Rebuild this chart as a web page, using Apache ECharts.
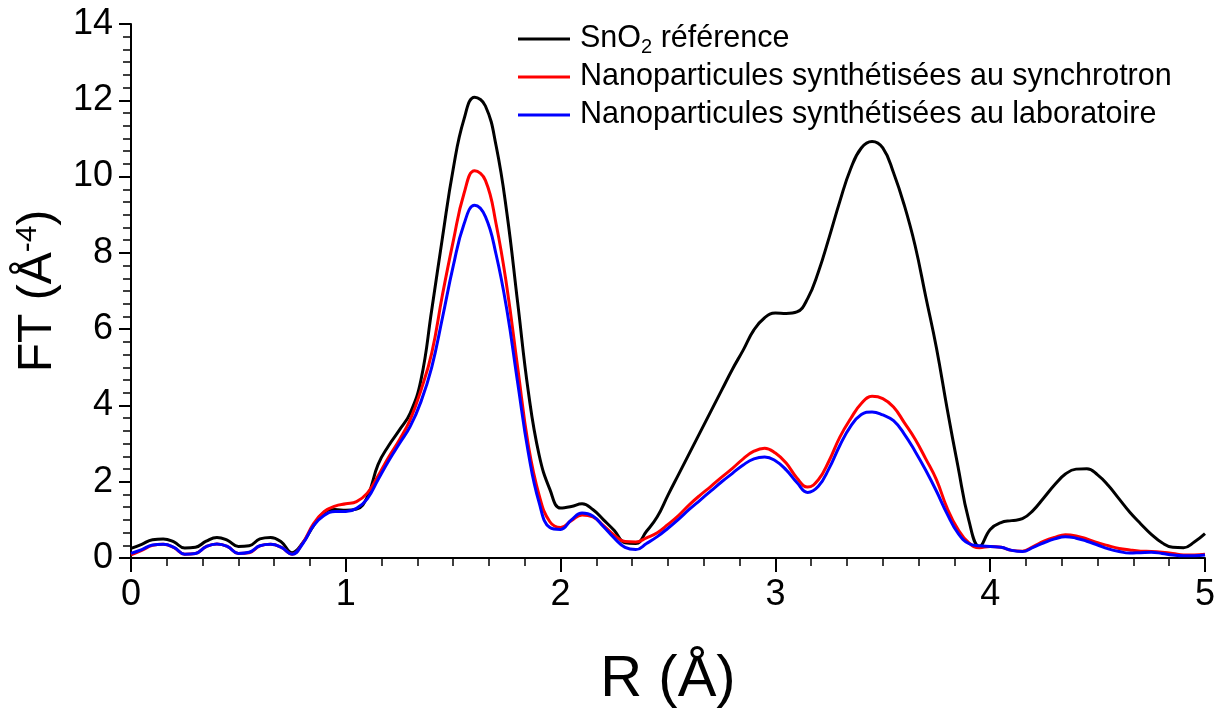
<!DOCTYPE html>
<html>
<head>
<meta charset="utf-8">
<script src="https://cdn.jsdelivr.net/npm/echarts@6/dist/echarts.min.js"></script>
<style>
  html, body { margin: 0; padding: 0; background: #fff; }
  #chart { width: 1222px; height: 709px; }
</style>
</head>
<body>
<div id="chart"></div>
<script>
// R grid (Å), step 0.05 from 0 to 5
const rValues = [];
for (let i = 0; i <= 100; i++) rValues.push(+(i * 0.05).toFixed(2));

const xTicks = [0, 1, 2, 3, 4, 5];
const yTicks = [0, 2, 4, 6, 8, 10, 12, 14];

const seriesNames = [
  'SnO2 référence',
  'Nanoparticules synthétisées au synchrotron',
  'Nanoparticules synthétisées au laboratoire'
];

const ftReference = [
  0.25, 0.36, 0.48, 0.50, 0.42, 0.26, 0.28, 0.44, 0.54, 0.46,
  0.30, 0.32, 0.50, 0.54, 0.42, 0.14, 0.40, 0.85, 1.20, 1.27,
  1.25, 1.28, 1.60, 2.45, 2.95, 3.36, 3.80, 4.67, 6.50, 8.40,
  10.2, 11.5, 12.08, 11.85, 10.8, 9.04, 6.70, 4.35, 2.70, 1.80,
  1.31, 1.35, 1.42, 1.27, 1.00, 0.72, 0.40, 0.38, 0.70, 1.08,
  1.65, 2.20, 2.75, 3.30, 3.85, 4.40, 4.95, 5.45, 5.98, 6.30,
  6.42, 6.41, 6.45, 6.80, 7.50, 8.40, 9.35, 10.2, 10.75, 10.92,
  10.75, 10.1, 9.25, 8.20, 6.85, 5.50, 3.90, 2.40, 1.00, 0.30,
  0.75, 0.93, 0.98, 1.03, 1.25, 1.58, 1.92, 2.20, 2.33, 2.34,
  2.18, 1.90, 1.55, 1.20, 0.90, 0.62, 0.40, 0.28, 0.27, 0.42,
  0.64
];

const ftSynchrotron = [
  0.08, 0.20, 0.33, 0.36, 0.27, 0.10, 0.12, 0.30, 0.37, 0.30,
  0.12, 0.14, 0.32, 0.36, 0.28, 0.10, 0.40, 0.90, 1.22, 1.36,
  1.42, 1.48, 1.70, 2.15, 2.65, 3.10, 3.63, 4.40, 5.37, 6.90,
  8.30, 9.55, 10.15, 9.90, 8.75, 7.10, 5.00, 2.95, 1.65, 0.95,
  0.80, 0.98, 1.13, 1.08, 0.85, 0.60, 0.43, 0.42, 0.53, 0.66,
  0.88, 1.12, 1.40, 1.65, 1.88, 2.12, 2.35, 2.60, 2.80, 2.88,
  2.75, 2.49, 2.10, 1.86, 2.05, 2.55, 3.17, 3.65, 4.05, 4.24,
  4.18, 3.96, 3.55, 3.12, 2.60, 2.05, 1.30, 0.75, 0.40, 0.27,
  0.30, 0.28, 0.20, 0.18, 0.30, 0.44, 0.54, 0.61, 0.58, 0.50,
  0.40, 0.32, 0.25, 0.21, 0.18, 0.17, 0.15, 0.12, 0.08, 0.08,
  0.10
];

const ftLaboratoire = [
  0.12, 0.22, 0.34, 0.36, 0.28, 0.10, 0.12, 0.30, 0.37, 0.30,
  0.12, 0.15, 0.32, 0.36, 0.28, 0.10, 0.38, 0.85, 1.12, 1.22,
  1.22, 1.30, 1.55, 2.05, 2.55, 3.00, 3.45, 4.10, 5.00, 6.30,
  7.65, 8.75, 9.25, 8.95, 7.95, 6.50, 4.60, 2.75, 1.45, 0.80,
  0.75, 1.00, 1.18, 1.10, 0.82, 0.52, 0.28, 0.22, 0.38, 0.56,
  0.78, 1.02, 1.28, 1.52, 1.76, 2.00, 2.22, 2.44, 2.60, 2.65,
  2.55, 2.31, 1.98, 1.72, 1.88, 2.35, 2.95, 3.45, 3.76, 3.83,
  3.75, 3.60, 3.25, 2.80, 2.30, 1.75, 1.15, 0.65, 0.38, 0.32,
  0.30, 0.28, 0.20, 0.17, 0.28, 0.40, 0.50, 0.56, 0.52, 0.44,
  0.34, 0.24, 0.17, 0.13, 0.14, 0.15, 0.12, 0.08, 0.06, 0.06,
  0.08
];

const colors = ['#000000', '#ff0000', '#0000ff'];
const fontFamily = 'Liberation Sans, Arial, sans-serif';

function pairs(ys) {
  return rValues.map((r, i) => [r, ys[i]]);
}

function makeSeries(name, ys, color) {
  return {
    name: name,
    type: 'line',
    data: pairs(ys),
    symbol: 'none',
    smooth: 0.45,
    lineStyle: { color: color, width: 3 },
    itemStyle: { color: color },
    z: 3
  };
}

let chart = echarts.init(document.getElementById('chart'), null, { renderer: 'canvas' });

let option = {
  animation: false,
  backgroundColor: '#ffffff',
  grid: {
    left: 131,
    right: 17,
    top: 24,
    bottom: 151,
    outerBoundsMode: 'none'
  },
  legend: {
    left: 513,
    top: 16,
    orient: 'vertical',
    icon: 'rect',
    itemWidth: 52,
    itemHeight: 3,
    itemGap: 2,
    data: seriesNames,
    formatter: function (name) {
      if (name === seriesNames[0]) return 'SnO{sub|2} référence';
      return name;
    },
    textStyle: {
      color: '#000',
      fontFamily: fontFamily,
      fontSize: 30.5,
      lineHeight: 36,
      padding: [0, 0, 0, 5],
      rich: {
        sub: { fontSize: 20, verticalAlign: 'bottom', padding: [14, 0, 0, 0], fontFamily: fontFamily, color: '#000' }
      }
    }
  },
  xAxis: {
    type: 'value',
    min: xTicks[0],
    max: xTicks[xTicks.length - 1],
    interval: 1,
    name: 'R (Å)',
    nameLocation: 'middle',
    nameGap: 93,
    nameTextStyle: {
      color: '#000',
      fontFamily: fontFamily,
      fontSize: 58
    },
    axisLine: { show: true, lineStyle: { color: '#000', width: 2 } },
    axisTick: { show: true, length: 14, lineStyle: { color: '#000', width: 2 } },
    minorTick: { show: true, splitNumber: 6, length: 8, lineStyle: { color: '#000', width: 1.5 } },
    axisLabel: {
      color: '#000',
      fontFamily: fontFamily,
      fontSize: 36,
      margin: 19
    },
    splitLine: { show: false }
  },
  yAxis: {
    type: 'value',
    min: yTicks[0],
    max: yTicks[yTicks.length - 1],
    interval: 2,
    name: 'FT (Å{sup|-4})',
    nameLocation: 'middle',
    nameGap: 68,
    nameTextStyle: {
      color: '#000',
      fontFamily: fontFamily,
      fontSize: 48,
      rich: {
        sup: { fontSize: 30, verticalAlign: 'top', padding: [0, 0, 20, 0], fontFamily: fontFamily, color: '#000' }
      }
    },
    axisLine: { show: true, lineStyle: { color: '#000', width: 2 } },
    axisTick: { show: true, length: 12, lineStyle: { color: '#000', width: 2 } },
    minorTick: { show: true, splitNumber: 6, length: 8, lineStyle: { color: '#000', width: 1.5 } },
    axisLabel: {
      color: '#000',
      fontFamily: fontFamily,
      fontSize: 36,
      margin: 18
    },
    splitLine: { show: false }
  },
  series: [
    makeSeries(seriesNames[0], ftReference, colors[0]),
    makeSeries(seriesNames[1], ftSynchrotron, colors[1]),
    makeSeries(seriesNames[2], ftLaboratoire, colors[2])
  ]
};

chart.setOption(option);
</script>
</body>
</html>
